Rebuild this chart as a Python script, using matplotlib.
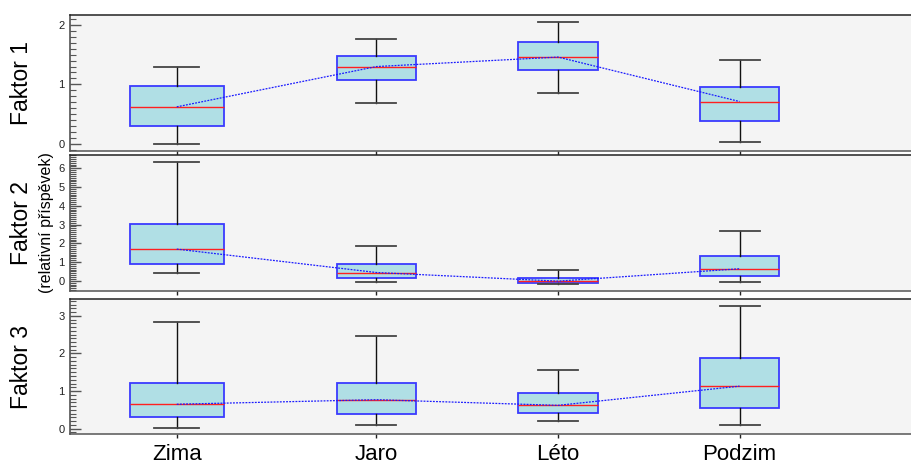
import matplotlib
matplotlib.use("Agg")
import matplotlib.pyplot as plt
from matplotlib.ticker import MultipleLocator

seasons = ["Zima", "Jaro", "Léto", "Podzim"]

# Box statistics per factor: lower whisker, Q1, median, Q3, upper whisker
f1_low = [0.00, 0.68, 0.85, 0.03]
f1_q1 = [0.30, 1.08, 1.25, 0.38]
f1_med = [0.62, 1.30, 1.46, 0.71]
f1_q3 = [0.98, 1.48, 1.72, 0.96]
f1_high = [1.30, 1.77, 2.06, 1.41]

f2_low = [0.39, -0.07, -0.16, -0.07]
f2_q1 = [0.90, 0.14, -0.12, 0.23]
f2_med = [1.69, 0.44, -0.02, 0.64]
f2_q3 = [3.03, 0.92, 0.14, 1.33]
f2_high = [6.35, 1.88, 0.60, 2.68]

f3_low = [0.03, 0.10, 0.20, 0.10]
f3_q1 = [0.30, 0.39, 0.42, 0.55]
f3_med = [0.65, 0.77, 0.62, 1.13]
f3_q3 = [1.22, 1.22, 0.94, 1.87]
f3_high = [2.84, 2.47, 1.57, 3.27]

panel_labels = ["Faktor 1", "Faktor 2", "Faktor 3"]
panel_sub = [None, "(relativní příspěvek)", None]
panel_ticks = [[0, 1, 2], [0, 1, 2, 3, 4, 5, 6], [0, 1, 2, 3]]

# layout
positions = [0.9, 2.0, 3.0, 4.0]
box_widths = [0.52, 0.44, 0.44, 0.44]
cap_widths = [0.25, 0.22, 0.22, 0.22]
xlim = (0.312, 4.95)
ylims = [(-0.12, 2.17), (-0.53, 6.71), (-0.15, 3.44)]
axes_rects = [
    (70 / 912, 1 - 150.7 / 467, 1 - 70 / 912, (150.7 - 15) / 467),
    (70 / 912, 1 - 290.7 / 467, 1 - 70 / 912, (290.7 - 155) / 467),
    (70 / 912, 1 - 434.3 / 467, 1 - 70 / 912, (434.3 - 299.3) / 467),
]

data = [
    (f1_low, f1_q1, f1_med, f1_q3, f1_high),
    (f2_low, f2_q1, f2_med, f2_q3, f2_high),
    (f3_low, f3_q1, f3_med, f3_q3, f3_high),
]

fig = plt.figure(figsize=(9.12, 4.67), dpi=100)
fig.patch.set_facecolor("white")
label_font = "Liberation Sans"

for i, (low, q1, med, q3, high) in enumerate(data):
    ax = fig.add_axes(axes_rects[i])
    ax.set_facecolor("#f4f4f4")
    stats = [
        dict(whislo=low[k], q1=q1[k], med=med[k], q3=q3[k], whishi=high[k],
             fliers=[], label=seasons[k])
        for k in range(len(seasons))
    ]
    ax.bxp(stats, positions=positions, widths=box_widths, capwidths=cap_widths,
           patch_artist=True, showfliers=False,
           boxprops=dict(facecolor="#b0dfe5", edgecolor="#3a3aff", linewidth=1.3),
           medianprops=dict(color="#ff2020", linewidth=1.0),
           whiskerprops=dict(color="#111111", linewidth=1.0),
           capprops=dict(color="#444444", linewidth=1.3))
    # dotted line joining the medians
    ax.plot(positions, med, color="#1a1aff", linestyle=(0, (1.5, 1)),
            linewidth=0.9, zorder=5)

    ax.set_xlim(*xlim)
    ax.set_ylim(*ylims[i])
    ax.set_xticks(positions)
    if i == 2:
        ax.set_xticklabels(seasons, fontsize=16, family=label_font)
    else:
        ax.set_xticklabels([])
    ax.tick_params(axis="x", direction="out", length=3, width=1, color="#222222", pad=4)
    ax.set_yticks(panel_ticks[i])
    ax.yaxis.set_minor_locator(MultipleLocator(0.1))
    ax.tick_params(axis="y", which="major", direction="in", length=8, width=1,
                   color="#555555", labelsize=8, labelcolor="#222222", pad=4)
    ax.tick_params(axis="y", which="minor", direction="in", length=4, width=0.8,
                   color="#555555")
    for lab in ax.get_yticklabels():
        lab.set_family(label_font)
    ax.spines["right"].set_visible(False)
    ax.spines["top"].set_color("#222222")
    ax.spines["left"].set_color("#444444")
    ax.spines["bottom"].set_color("#555555")
    for s in ax.spines.values():
        s.set_linewidth(1.1)

    x0, y0, w, h = axes_rects[i]
    yc = y0 + h / 2
    fig.text(22 / 912, yc, panel_labels[i], rotation=90, ha="center", va="center",
             fontsize=16.5, family=label_font)
    if panel_sub[i]:
        fig.text(47 / 912, yc, panel_sub[i], rotation=90, ha="center", va="center",
                 fontsize=11.5, family=label_font)

fig.savefig("out.png", dpi=100, facecolor="white")
